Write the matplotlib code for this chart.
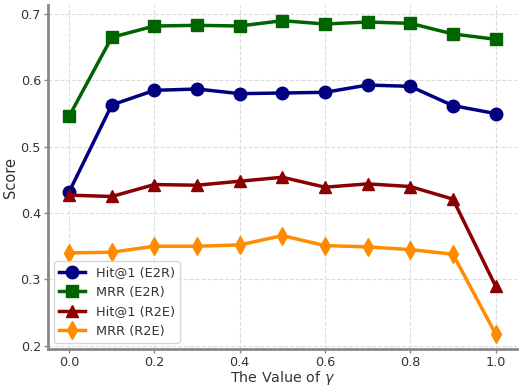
import matplotlib
matplotlib.use("Agg")
import matplotlib.pyplot as plt

gamma = [0.0, 0.1, 0.2, 0.3, 0.4, 0.5, 0.6, 0.7, 0.8, 0.9, 1.0]
hit1_e2r = [0.432, 0.563, 0.585, 0.587, 0.580, 0.581, 0.582, 0.593, 0.591, 0.562, 0.550]
mrr_e2r = [0.546, 0.665, 0.682, 0.683, 0.682, 0.690, 0.685, 0.688, 0.686, 0.670, 0.662]
hit1_r2e = [0.427, 0.425, 0.443, 0.442, 0.448, 0.454, 0.439, 0.444, 0.440, 0.421, 0.290]
mrr_r2e = [0.340, 0.341, 0.350, 0.350, 0.352, 0.366, 0.351, 0.349, 0.345, 0.338, 0.218]

series = [
    ("Hit@1 (E2R)", hit1_e2r, "#000080", "o"),
    ("MRR (E2R)", mrr_e2r, "#006400", "s"),
    ("Hit@1 (R2E)", hit1_r2e, "#8B0000", "^"),
    ("MRR (R2E)", mrr_r2e, "#FF8C00", "d"),
]

fig = plt.figure(figsize=(5.2, 3.87), dpi=100)
ax = fig.add_axes([0.092, 0.097, 0.902, 0.890])
for label, vals, color, marker in series:
    ax.plot(gamma, vals, color=color, marker=marker, linewidth=2.5,
            markersize=9, label=label)

ax.grid(True, linestyle="--", color="#dddddd", linewidth=0.8)
ax.set_axisbelow(True)
for s in ["top", "right"]:
    ax.spines[s].set_visible(False)
for s in ["left", "bottom"]:
    ax.spines[s].set_color("#888888")
    ax.spines[s].set_linewidth(2)
ax.tick_params(length=3, width=1, color="#888888", labelsize=9.2,
               labelcolor="#333333", pad=2)
ax.set_xlabel(r"The Value of $\gamma$", fontsize=10.3, color="#333333", labelpad=-0.5)
ax.set_ylabel("Score", fontsize=10.5, color="#333333", labelpad=2)
ax.set_xticks([0.0, 0.2, 0.4, 0.6, 0.8, 1.0])
ax.set_yticks([0.2, 0.3, 0.4, 0.5, 0.6, 0.7])
leg = ax.legend(loc="lower left", fontsize=9.3, frameon=True)
for t in leg.get_texts():
    t.set_color("#333333")
fig.savefig("out.png", dpi=100)
